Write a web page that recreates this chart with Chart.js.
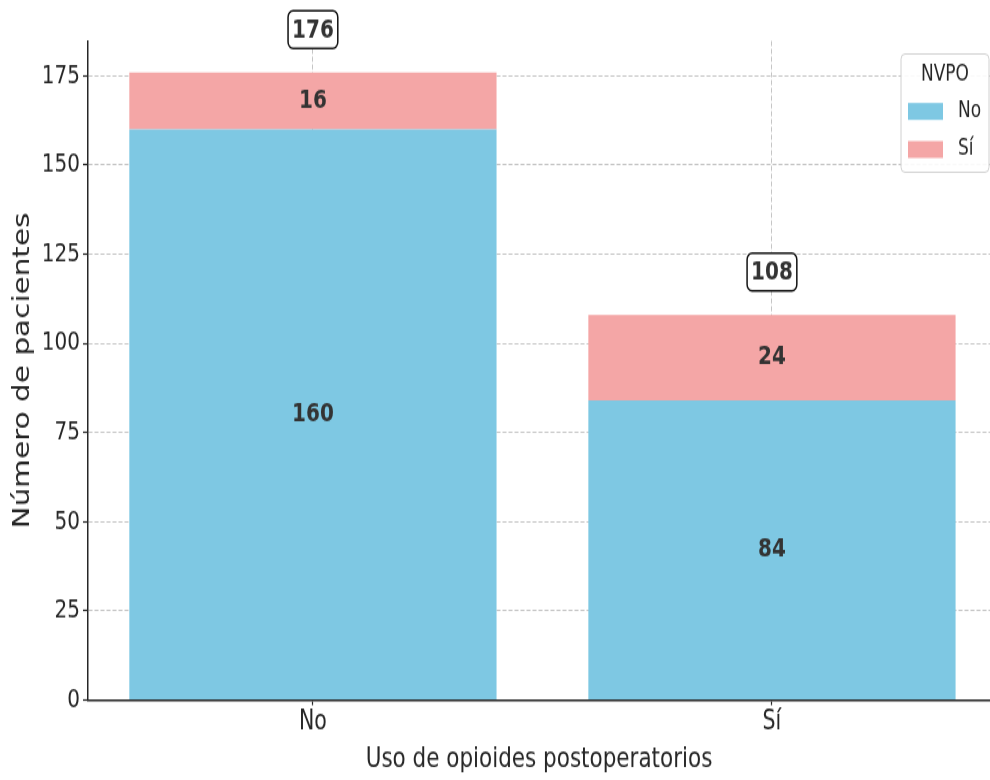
<!DOCTYPE html>
<html>
<head>
<meta charset="utf-8">
<script src="https://cdn.jsdelivr.net/npm/chart.js@4.4.1/dist/chart.umd.min.js"></script>
<style>
  html { margin: 0; padding: 0; background: #fff; overflow: hidden; }
  body { margin: 0; padding: 0; width: 990px; height: 780px; }
  /* the reference is a 1000x600 figure squeezed into 990x780, so stretch it the same way */
  #wrap { width: 990px; height: 600px; transform: scaleY(1.3); transform-origin: 0 0; }
</style>
</head>
<body>
<div id="wrap"><canvas id="chart" width="990" height="600"></canvas></div>
<script>
// Data
const categories = ["No", "Sí"];          // Uso de opioides postoperatorios
const seriesNames = ["No", "Sí"];         // NVPO
const nvpoNo = [160, 84];
const nvpoSi = [16, 24];
const yTicks = [0, 25, 50, 75, 100, 125, 150, 175];

const totals = categories.map((c, i) => nvpoNo[i] + nvpoSi[i]);

const FONT = "'DejaVu Sans', 'Liberation Sans', sans-serif";
const colors = ["#7ec8e3", "#f4a6a6"];
const textColor = "#262626";
const gridColor = "rgba(140,140,140,0.5)";

// Labels inside each segment + boxed totals on top
const labelsPlugin = {
  id: "labels",
  afterDraw(chart) {
    const ctx = chart.ctx;
    const yScale = chart.scales.y;
    ctx.save();
    ctx.font = "bold 20px " + FONT;
    ctx.textAlign = "center";
    ctx.textBaseline = "middle";
    chart.data.datasets.forEach((ds, di) => {
      chart.getDatasetMeta(di).data.forEach((bar, i) => {
        ctx.fillStyle = "#333";
        ctx.fillText(String(ds.data[i].y), bar.x, (bar.y + bar.base) / 2);
      });
    });
    // totals
    const meta = chart.getDatasetMeta(0);
    totals.forEach((t, i) => {
      const x = meta.data[i].x;
      const y = yScale.getPixelForValue(t + 12);
      const txt = String(t);
      const w = ctx.measureText(txt).width + 8;
      const h = 29;
      ctx.beginPath();
      ctx.roundRect(x - w / 2, y - h / 2, w, h, 5);
      ctx.fillStyle = "#fff";
      ctx.fill();
      ctx.lineWidth = 1.5;
      ctx.strokeStyle = "#111";
      ctx.stroke();
      ctx.fillStyle = "#333";
      ctx.fillText(txt, x, y + 1);
    });
    ctx.restore();
  }
};

// Legend box in the upper right corner
const legendPlugin = {
  id: "nvpoLegend",
  afterDraw(chart) {
    const ctx = chart.ctx;
    const left = 901, top = 41.5, w = 88, h = 91;
    ctx.save();
    ctx.beginPath();
    ctx.roundRect(left, top, w, h, 4);
    ctx.fillStyle = "rgba(255,255,255,0.9)";
    ctx.fill();
    ctx.lineWidth = 1;
    ctx.strokeStyle = "#d0d0d0";
    ctx.stroke();

    ctx.fillStyle = textColor;
    ctx.font = "17px " + FONT;
    ctx.textAlign = "center";
    ctx.textBaseline = "middle";
    ctx.fillText("NVPO", left + w / 2, top + 16);

    ctx.textAlign = "left";
    seriesNames.forEach((name, i) => {
      const sy = top + 37.7 + i * 29.3;
      ctx.fillStyle = colors[i];
      ctx.fillRect(left + 7, sy, 35, 13);
      ctx.fillStyle = textColor;
      ctx.fillText(name, left + 57, sy + 6.5);
    });
    ctx.restore();
  }
};

const ctx = document.getElementById("chart").getContext("2d");

new Chart(ctx, {
  type: "bar",
  data: {
    datasets: [
      {
        label: seriesNames[0],
        data: categories.map((c, i) => ({ x: i, y: nvpoNo[i] })),
        backgroundColor: colors[0],
        barPercentage: 0.8,
        categoryPercentage: 1.0,
      },
      {
        label: seriesNames[1],
        data: categories.map((c, i) => ({ x: i, y: nvpoSi[i] })),
        backgroundColor: colors[1],
        barPercentage: 0.8,
        categoryPercentage: 1.0,
      },
    ],
  },
  options: {
    responsive: false,
    animation: false,
    devicePixelRatio: 1,
    layout: { padding: { top: 31.5, left: 0, right: 0, bottom: 0 } },
    plugins: {
      legend: { display: false },
      tooltip: { enabled: false },
    },
    scales: {
      x: {
        type: "linear",
        stacked: true,
        offset: false,
        min: -0.49,
        max: 1.475,
        z: 1,
        afterBuildTicks: (scale) => {
          scale.ticks = categories.map((c, i) => ({ value: i }));
        },
        afterFit: (scale) => {
          scale.height = 61.5;
        },
        ticks: {
          callback: (v) => categories[v],
          font: { family: FONT, size: 20.5 },
          color: textColor,
          padding: 1,
          maxRotation: 0,
          autoSkip: false,
        },
        grid: {
          offset: false,
          color: gridColor,
          lineWidth: 1,
          tickLength: 4,
          tickColor: textColor,
          tickWidth: 1.2,
        },
        border: { color: textColor, width: 1.5, dash: [4, 2] },
        title: {
          display: true,
          text: "Uso de opioides postoperatorios",
          font: { family: FONT, size: 21.5 },
          color: textColor,
          padding: { top: 0, bottom: 2.5 },
        },
      },
      y: {
        stacked: true,
        min: 0,
        max: 184.8,
        z: 1,
        afterBuildTicks: (scale) => {
          scale.ticks = yTicks.map((v) => ({ value: v }));
        },
        afterFit: (scale) => {
          scale.width = 88;
        },
        ticks: {
          font: { family: FONT, size: 20 },
          color: textColor,
          padding: 3,
        },
        grid: {
          color: gridColor,
          lineWidth: 1,
          tickLength: 5,
          tickColor: textColor,
          tickWidth: 1.2,
        },
        border: { color: textColor, width: 1.5, dash: [4, 2] },
        title: {
          display: true,
          text: "Número de pacientes",
          font: { family: FONT, size: 22.7 },
          color: textColor,
          padding: { top: 9.5, bottom: 0 },
        },
      },
    },
  },
  plugins: [labelsPlugin, legendPlugin],
});
</script>
</body>
</html>
